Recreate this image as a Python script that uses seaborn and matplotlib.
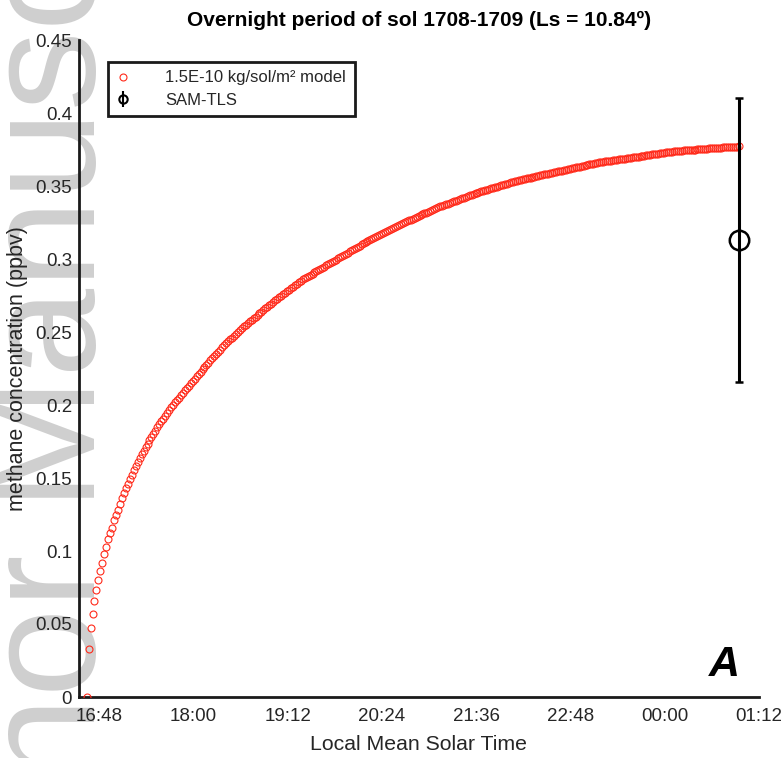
import matplotlib
matplotlib.use("Agg")
import numpy as np
import pandas as pd
import matplotlib.pyplot as plt
import matplotlib.dates as mdates
from matplotlib.lines import Line2D
from matplotlib.ticker import FuncFormatter
import seaborn as sns

# ---------------- data ----------------
model_start = "2000-01-01 16:38:30"
model_step = "90s"
model_ppbv = [
    0.000, 0.033, 0.047, 0.057, 0.066, 0.073, 0.080, 0.086, 0.092, 0.098, 0.103,
    0.108, 0.112, 0.116, 0.121, 0.125, 0.128, 0.132, 0.136, 0.140, 0.143,
    0.1462, 0.1493, 0.1523, 0.1552, 0.1581, 0.1609, 0.1636, 0.1662, 0.1687, 0.1711,
    0.1735, 0.1758, 0.1781, 0.1803, 0.1825, 0.1846, 0.1867, 0.1887, 0.1907, 0.1927,
    0.1946, 0.1965, 0.1983, 0.2000, 0.2018, 0.2035, 0.2051, 0.2068, 0.2084, 0.2100,
    0.2117, 0.2133, 0.2149, 0.2165, 0.2181, 0.2197, 0.2213, 0.2229, 0.2244, 0.2260,
    0.2275, 0.2290, 0.2305, 0.2320, 0.2335, 0.2350, 0.2365, 0.2380, 0.2395, 0.2410,
    0.2423, 0.2436, 0.2449, 0.2462, 0.2475, 0.2488, 0.2501, 0.2514, 0.2527, 0.2540,
    0.2551, 0.2562, 0.2573, 0.2584, 0.2595, 0.2606, 0.2617, 0.2628, 0.2639, 0.2650,
    0.2661, 0.2672, 0.2683, 0.2694, 0.2705, 0.2716, 0.2727, 0.2738, 0.2749, 0.2760,
    0.2770, 0.2780, 0.2790, 0.2800, 0.2810, 0.2820, 0.2830, 0.2840, 0.2850, 0.2860,
    0.2868, 0.2876, 0.2884, 0.2892, 0.2900, 0.2908, 0.2916, 0.2924, 0.2932, 0.2940,
    0.2948, 0.2956, 0.2964, 0.2972, 0.2980, 0.2988, 0.2996, 0.3004, 0.3012, 0.3020,
    0.3028, 0.3036, 0.3044, 0.3052, 0.3060, 0.3068, 0.3076, 0.3084, 0.3092, 0.3100,
    0.3107, 0.3114, 0.3121, 0.3128, 0.3135, 0.3142, 0.3149, 0.3156, 0.3163, 0.3170,
    0.3177, 0.3184, 0.3191, 0.3198, 0.3205, 0.3212, 0.3219, 0.3226, 0.3233, 0.3240,
    0.3246, 0.3252, 0.3258, 0.3264, 0.3270, 0.3276, 0.3282, 0.3288, 0.3294, 0.3300,
    0.3306, 0.3312, 0.3318, 0.3324, 0.3330, 0.3336, 0.3342, 0.3348, 0.3354, 0.3360,
    0.3365, 0.3370, 0.3375, 0.3380, 0.3385, 0.3390, 0.3395, 0.3400, 0.3405, 0.3410,
    0.3415, 0.3420, 0.3425, 0.3430, 0.3435, 0.3440, 0.3445, 0.3450, 0.3455, 0.3460,
    0.3464, 0.3468, 0.3472, 0.3476, 0.3480, 0.3484, 0.3488, 0.3492, 0.3496, 0.3500,
    0.3504, 0.3508, 0.3512, 0.3516, 0.3520, 0.3524, 0.3528, 0.3532, 0.3536, 0.3540,
    0.3543, 0.3546, 0.3549, 0.3552, 0.3555, 0.3558, 0.3561, 0.3564, 0.3567, 0.3570,
    0.3573, 0.3576, 0.3579, 0.3582, 0.3585, 0.3588, 0.3591, 0.3594, 0.3597, 0.3600,
    0.3603, 0.3606, 0.3609, 0.3612, 0.3615, 0.3618, 0.3621, 0.3624, 0.3627, 0.3630,
    0.3633, 0.3636, 0.3639, 0.3642, 0.3645, 0.3648, 0.3651, 0.3654, 0.3657, 0.3660,
    0.3662, 0.3664, 0.3666, 0.3668, 0.3670, 0.3672, 0.3674, 0.3676, 0.3678, 0.3680,
    0.3682, 0.3684, 0.3686, 0.3688, 0.3690, 0.3692, 0.3694, 0.3696, 0.3698, 0.3700,
    0.3702, 0.3704, 0.3706, 0.3708, 0.3710, 0.3712, 0.3714, 0.3716, 0.3718, 0.3720,
    0.3722, 0.3724, 0.3726, 0.3728, 0.3730, 0.3732, 0.3734, 0.3736, 0.3738, 0.3740,
    0.3741, 0.3742, 0.3743, 0.3744, 0.3745, 0.3746, 0.3747, 0.3748, 0.3749, 0.3750,
    0.3751, 0.3752, 0.3753, 0.3754, 0.3755, 0.3756, 0.3757, 0.3758, 0.3759, 0.3760,
    0.3761, 0.3762, 0.3763, 0.3764, 0.3765, 0.3766, 0.3767, 0.3768, 0.3769, 0.3770,
    0.3770, 0.3771,
]
tls_time = ["2000-01-02 00:56:30"]
tls_ppbv = [0.313]
tls_err = [0.097]

x_ticks = ["2000-01-01 16:48", "2000-01-01 18:00", "2000-01-01 19:12",
           "2000-01-01 20:24", "2000-01-01 21:36", "2000-01-01 22:48",
           "2000-01-02 00:00", "2000-01-02 01:12"]
x_limits = ["2000-01-01 16:32:40", "2000-01-02 01:12"]
y_ticks = [0, 0.05, 0.1, 0.15, 0.2, 0.25, 0.3, 0.35, 0.4, 0.45]

title = "Overnight period of sol 1708-1709 (Ls = 10.84º)"
model_label = "1.5E-10 kg/sol/m² model"
tls_label = "SAM-TLS"

# ---------------- figure ----------------
sns.set_theme(style="white")
plt.rcParams["font.family"] = ["Liberation Sans", "DejaVu Sans"]
plt.rcParams["axes.unicode_minus"] = False

fig = plt.figure(figsize=(7.81, 7.58), dpi=100)
ax = fig.add_axes([79 / 781, 1 - 697 / 758, 680 / 781, 657 / 758])
ax.patch.set_alpha(0)

# watermark (behind the axes and all labels)
fig.text(95 / 781, 0.5026, "Author Manuscript", rotation=90, rotation_mode="anchor",
         ha="center", va="baseline", fontsize=115, color="#cfcfcf", zorder=-5)

df = pd.DataFrame({
    "time": pd.date_range(model_start, periods=len(model_ppbv), freq=model_step),
    "ppbv": model_ppbv,
})
sns.lineplot(data=df, x="time", y="ppbv", ax=ax, linestyle="", marker="o",
             markersize=5, markerfacecolor="none", markeredgecolor="#ff2a1a",
             markeredgewidth=0.8, color="#ff2a1a", zorder=3)

tls_t = pd.to_datetime(tls_time)
ax.errorbar(tls_t, tls_ppbv, yerr=tls_err, fmt="o", markersize=14,
            markerfacecolor="none", markeredgecolor="black", markeredgewidth=1.8,
            ecolor="black", elinewidth=2.2, capsize=2.6, capthick=3, zorder=4)

ax.set_xlim(pd.to_datetime(x_limits[0]), pd.to_datetime(x_limits[1]))
ax.set_ylim(0, 0.45)
ax.set_xticks(pd.to_datetime(x_ticks))
ax.xaxis.set_major_formatter(mdates.DateFormatter("%H:%M"))
ax.set_yticks(y_ticks)
ax.yaxis.set_major_formatter(FuncFormatter(lambda v, p: "%g" % round(v, 3)))

for s in ["top", "right"]:
    ax.spines[s].set_visible(False)
for s in ["bottom", "left"]:
    ax.spines[s].set_color("#1a1a1a")
    ax.spines[s].set_linewidth(2.0)
ax.tick_params(axis="both", direction="in", length=5, width=2, color="#1a1a1a",
               labelsize=13.5, labelcolor="#262626")
ax.tick_params(axis="x", pad=8)
ax.tick_params(axis="y", pad=5)

ax.set_xlabel("Local Mean Solar Time", fontsize=15.3, color="#262626", labelpad=7)
ax.set_ylabel("methane concentration (ppbv)", fontsize=15.5, color="#262626", labelpad=5)
ax.set_title(title, fontsize=15, fontweight="bold", color="black", pad=10)

ax.text(0.972, 0.032, "A", transform=ax.transAxes, ha="right", va="baseline",
        fontsize=31, fontweight="bold", fontstyle="italic", color="black")

handles = [
    Line2D([], [], linestyle="", marker="o", markersize=5, markerfacecolor="none",
           markeredgecolor="#ff2a1a", markeredgewidth=0.8),
]
eb_handle = ax.errorbar([], [], yerr=[], fmt="o", markersize=6, markerfacecolor="none",
                        markeredgecolor="black", markeredgewidth=1.5, ecolor="black",
                        elinewidth=1.5, capsize=2, capthick=2)
handles.append(eb_handle)
leg = ax.legend(handles, [model_label, tls_label], loc="upper left",
                bbox_to_anchor=(0.0426, 0.9665), fontsize=12, frameon=True,
                fancybox=False, edgecolor="#1a1a1a", framealpha=1,
                borderpad=0.5, handlelength=0.75, handletextpad=2.2,
                labelspacing=0.45, borderaxespad=0)
leg.get_frame().set_linewidth(2.0)

fig.savefig("out.png", dpi=100)
